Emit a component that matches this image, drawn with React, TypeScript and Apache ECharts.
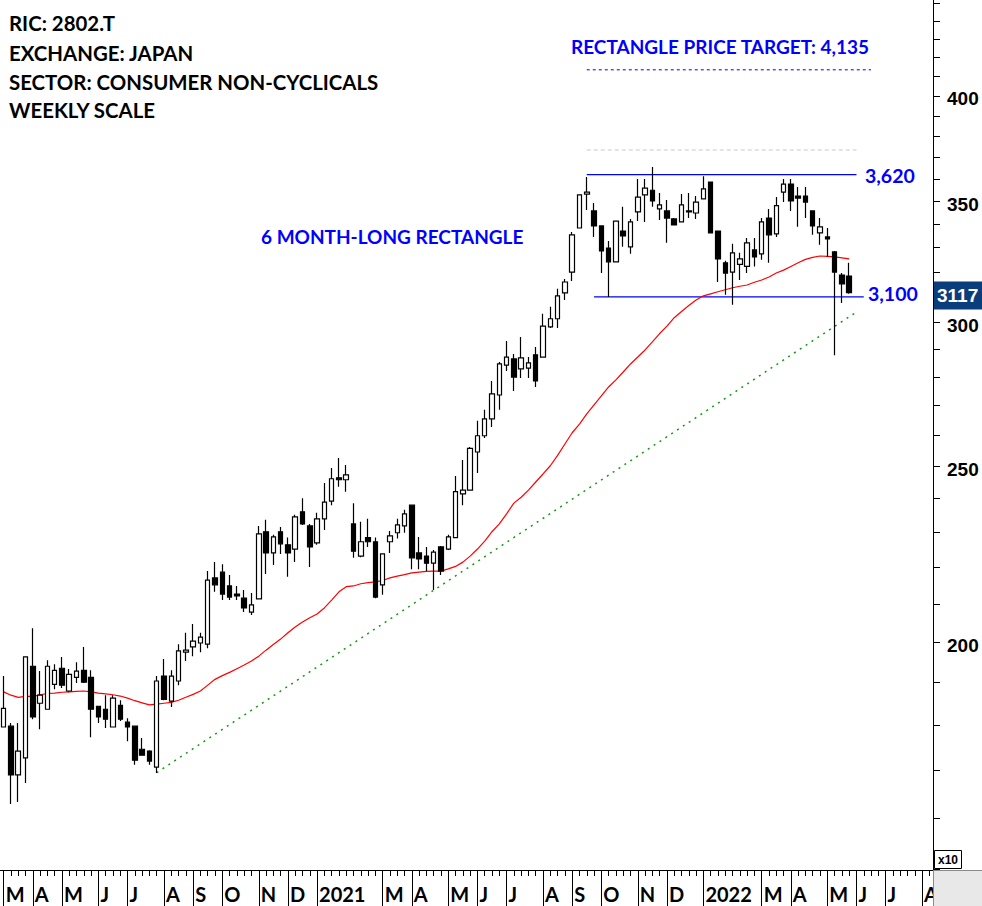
import React, { useEffect, useRef } from "react";
import * as echarts from "echarts";

// ---- data (prices shown x10, i.e. 311.7 = 3,117) ----
const FIRST_FRIDAY = "2020-03-06";
const WEEKS_ON_AXIS = 128;

// [open, close, low, high]
const ohlc: [number, number, number, number][] = [
  [179.6, 183.9, 179.6, 191.6], [179.8, 169.0, 162.9, 180.5], [169.0, 174.2, 163.3, 180.5], [172.7, 196.3, 167.3, 196.3],
  [194.0, 181.9, 181.4, 203.6], [185.1, 187.0, 179.1, 192.8], [183.7, 194.0, 183.7, 195.5], [189.6, 193.0, 188.4, 194.5],
  [193.5, 189.4, 188.7, 196.3], [188.0, 192.0, 187.7, 193.3], [191.3, 192.8, 189.9, 195.0], [193.0, 190.1, 189.9, 198.8],
  [191.3, 183.7, 177.3, 193.0], [184.4, 181.9, 180.5, 184.4], [183.7, 181.4, 179.4, 187.0], [179.6, 186.3, 179.6, 187.0],
  [184.6, 181.4, 181.0, 185.8], [180.7, 179.6, 176.4, 181.6], [179.8, 172.2, 171.2, 179.8], [174.6, 173.3, 173.3, 177.1],
  [174.2, 172.0, 171.2, 174.4], [170.7, 190.4, 169.4, 191.6], [191.6, 186.0, 185.8, 195.8], [185.6, 191.6, 184.2, 193.0],
  [190.4, 197.8, 189.4, 199.5], [197.5, 198.0, 195.3, 202.4], [198.8, 200.3, 196.5, 204.7], [199.8, 201.3, 197.5, 202.4],
  [199.5, 216.4, 198.5, 218.9], [217.0, 215.1, 213.2, 221.4], [218.6, 212.6, 211.0, 220.8], [214.8, 211.8, 211.0, 217.8],
  [212.6, 212.1, 211.0, 214.8], [211.5, 208.9, 207.8, 213.7], [207.8, 209.7, 207.0, 212.9], [211.3, 229.5, 211.3, 231.8],
  [230.1, 224.0, 218.1, 233.6], [224.0, 228.6, 220.6, 229.2], [230.1, 226.6, 223.7, 231.5], [226.3, 224.0, 217.3, 228.4],
  [225.1, 234.5, 221.4, 235.1], [236.0, 232.4, 232.1, 240.1], [231.8, 225.7, 220.0, 232.4], [226.9, 233.9, 226.3, 235.7],
  [233.9, 238.9, 230.6, 244.8], [239.2, 246.1, 238.0, 249.5], [246.4, 245.8, 243.6, 252.7], [245.8, 247.3, 242.1, 250.4],
  [232.4, 224.5, 222.6, 238.6], [223.1, 227.2, 222.8, 233.0], [228.4, 227.2, 225.7, 233.9], [227.2, 211.8, 211.5, 228.4],
  [215.1, 223.7, 212.4, 223.7], [227.2, 228.9, 224.0, 230.3], [229.8, 232.1, 228.1, 233.9], [231.8, 235.4, 229.8, 236.6],
  [238.0, 222.6, 219.4, 238.0], [224.0, 222.3, 219.4, 228.6], [223.1, 221.1, 218.9, 225.7], [221.1, 224.2, 213.7, 224.8],
  [225.7, 218.9, 217.8, 226.0], [225.1, 228.6, 224.8, 229.2], [228.4, 242.1, 228.4, 247.0], [241.4, 242.6, 238.0, 252.0],
  [242.6, 255.8, 242.6, 256.2], [254.6, 259.9, 247.9, 264.9], [259.9, 265.5, 259.2, 268.6], [265.5, 274.1, 262.8, 278.6],
  [273.7, 284.7, 268.6, 285.4], [284.3, 287.2, 282.2, 293.1], [286.5, 280.0, 275.1, 288.3], [282.9, 286.9, 279.7, 294.6],
  [283.2, 285.1, 279.7, 287.2], [288.0, 278.6, 276.5, 290.9], [287.2, 298.7, 287.2, 303.4], [298.4, 301.5, 298.0, 306.1],
  [301.5, 310.4, 298.0, 313.2], [311.6, 315.9, 308.8, 317.1], [319.9, 335.4, 316.3, 336.6], [338.3, 352.8, 338.3, 352.8],
  [353.2, 354.1, 346.1, 360.9], [345.7, 339.2, 334.5, 349.2], [339.2, 328.6, 319.5, 339.2], [329.8, 324.1, 309.9, 332.8],
  [324.1, 341.3, 324.1, 341.3], [337.0, 334.9, 330.3, 347.5], [330.3, 340.9, 327.4, 342.2], [345.3, 351.8, 341.3, 360.0],
  [352.8, 355.9, 340.9, 360.0], [354.9, 350.1, 347.5, 365.5], [346.6, 348.4, 341.7, 353.7], [345.7, 342.6, 332.0, 350.5],
  [342.2, 339.6, 339.6, 342.6], [340.9, 348.4, 340.9, 353.2], [345.7, 345.3, 342.6, 353.7], [344.8, 349.6, 342.2, 352.3],
  [351.0, 355.5, 351.0, 361.3], [358.6, 336.2, 336.2, 358.6], [337.0, 325.3, 315.9, 337.0], [323.7, 319.5, 310.8, 324.5],
  [319.9, 327.8, 306.9, 331.6], [323.0, 325.3, 316.7, 327.8], [322.2, 332.0, 319.5, 334.0], [329.0, 326.1, 322.2, 334.0],
  [327.4, 340.9, 324.9, 342.6], [342.6, 335.4, 323.7, 346.6], [335.8, 348.0, 334.5, 351.9], [354.1, 357.7, 349.6, 360.0],
  [357.7, 350.1, 345.7, 360.0], [352.3, 351.4, 338.8, 356.4], [352.3, 349.6, 342.6, 356.4], [345.7, 339.2, 335.4, 345.7],
  [336.2, 338.8, 331.2, 342.6], [334.5, 333.6, 326.1, 338.3], [328.2, 319.9, 287.9, 328.6], [318.7, 315.1, 307.6, 319.5],
  [318.3, 311.7, 311.2, 323.7],
];

// 40-week moving average (red line)
const movingAverage: number[] = [
  187.8, 187.0, 186.5, 186.7, 186.7, 187.1, 187.4, 187.5, 187.7, 187.8,
  187.9, 188.0, 187.8, 187.5, 187.3, 187.1, 186.8, 186.3, 185.7, 185.2,
  184.7, 184.9, 185.1, 185.3, 185.8, 186.5, 187.2, 188.0, 189.4, 190.8,
  191.7, 192.5, 193.4, 194.3, 195.3, 196.5, 198.0, 199.4, 200.8, 202.4,
  203.9, 205.2, 206.3, 207.3, 208.9, 211.0, 213.2, 214.6, 214.8, 215.4,
  215.7, 215.9, 216.3, 217.0, 217.5, 217.9, 218.4, 218.6, 218.8, 218.9,
  218.9, 219.5, 220.2, 221.4, 223.1, 225.1, 227.4, 230.1, 232.4, 235.4,
  238.6, 240.4, 242.6, 245.1, 247.6, 250.2, 253.5, 257.2, 260.9, 263.8,
  267.2, 270.3, 273.4, 276.5, 279.0, 281.8, 284.7, 287.2, 289.8, 292.8,
  295.9, 298.7, 301.9, 304.3, 306.6, 308.8, 310.4, 311.2, 312.0, 312.8,
  313.6, 314.2, 314.7, 315.8, 316.7, 317.9, 319.5, 320.7, 322.2, 323.7,
  325.1, 325.9, 326.5, 326.3, 326.1, 325.7, 325.3,
];

const yLabelValues = [200, 250, 300, 350, 400];
const yTickValues = [150, 160, 170, 180, 190, 200, 210, 220, 230, 240, 250, 260, 270, 280, 290, 300,
  310, 320, 330, 340, 350, 360, 370, 380, 390, 400, 410, 420, 430, 440, 450];
const Y_MIN = 149.8;
const Y_MAX = 451.8;

const resistanceLevel = { value: 362.0, from: 80, to: 117, label: "3,620" };
const supportLevel = { value: 310.0, from: 81, to: 118, label: "3,100" };
const priceTarget = { value: 413.5, from: 80, to: 119 };
const upperGuide = { value: 373.5, from: 80, to: 117 };
const trendLine = [[21, 169.5], [117, 304.1]];
const lastPriceLabel = "3117";
const lastPrice = 311.7;

const headerLines = ["RIC: 2802.T", "EXCHANGE: JAPAN", "SECTOR: CONSUMER NON-CYCLICALS", "WEEKLY SCALE"];
const targetTitle = "RECTANGLE PRICE TARGET: 4,135";
const patternTitle = "6 MONTH-LONG RECTANGLE";
const monthLetters = ["J", "F", "M", "A", "M", "J", "J", "A", "S", "O", "N", "D"];

function buildWeeks(): string[] {
  const out: string[] = [];
  const start = new Date(FIRST_FRIDAY + "T00:00:00Z").getTime();
  for (let i = 0; i < WEEKS_ON_AXIS; i++) {
    out.push(new Date(start + i * 7 * 86400000).toISOString().slice(0, 10));
  }
  return out;
}

export default function App() {
  const ref = useRef<HTMLDivElement>(null);
  useEffect(() => {
    if (!ref.current) return;
    const chart = echarts.init(ref.current, null, { renderer: "svg" });
    const L = Math.log;
    const weeks = buildWeeks();
    const monthOf = (i: number) => Number(weeks[i].slice(5, 7)) - 1;
    const isMonthMark = (i: number) =>
      (i === 0 || monthOf(i) !== monthOf(i - 1)) && monthOf(i) !== 1;

    const seg = (lv: { value: number; from: number; to: number }) => [
      [lv.from, L(lv.value)],
      [lv.to, L(lv.value)],
    ];
    const lineSeries = (data: any, color: string, type: any, width: number) => ({
      type: "line",
      data,
      showSymbol: false,
      symbol: "none",
      silent: true,
      lineStyle: { color, type, width },
      z: 3,
    });

    const option: any = {
      animation: false,
      backgroundColor: "#ffffff",
      grid: { left: 0, right: 49, top: 0, bottom: 36, containLabel: false, outerBoundsMode: "none" },
      xAxis: [
        {
          type: "category",
          data: weeks,
          position: "bottom",
          boundaryGap: true,
          axisLine: { show: true, lineStyle: { color: "#000", width: 1 } },
          axisTick: { show: true, alignWithLabel: true, interval: 0, length: 6, lineStyle: { color: "#000", width: 1 } },
          axisLabel: { show: false },
          splitLine: { show: false },
        },
        {
          type: "category",
          data: weeks,
          position: "bottom",
          boundaryGap: true,
          axisLine: { show: false },
          axisTick: {
            show: true,
            alignWithLabel: true,
            length: 36,
            interval: (i: number) => isMonthMark(i),
            lineStyle: { color: "#000", width: 1 },
          },
          axisLabel: {
            show: true,
            interval: (i: number) => isMonthMark(i),
            formatter: (v: string) => {
              const m = Number(v.slice(5, 7)) - 1;
              return m === 0 ? v.slice(0, 4) : monthLetters[m];
            },
            align: "left",
            verticalAlign: "middle",
            padding: [0, 0, 0, 2],
            margin: 24,
            color: "#000",
            fontFamily: "Lato",
            fontWeight: "bold",
            fontSize: 20,
          },
          splitLine: { show: false },
        },
      ],
      yAxis: {
        type: "value",
        position: "right",
        min: L(Y_MIN),
        max: L(Y_MAX),
        scale: true,
        axisLine: { show: true, lineStyle: { color: "#000", width: 1 } },
        axisTick: {
          show: true,
          length: 7,
          customValues: yTickValues.map(L),
          lineStyle: { color: "#000", width: 1 },
        },
        axisLabel: {
          show: true,
          customValues: yLabelValues.map(L),
          formatter: (v: number) => String(Math.round(Math.exp(v))),
          margin: 14,
          verticalAlign: "top",
          lineHeight: 6,
          color: "#000",
          fontFamily: "Liberation Sans",
          fontWeight: "bold",
          fontSize: 19,
        },
        splitLine: { show: false },
      },
      series: [
        lineSeries(seg(upperGuide), "#c8c8c8", [4, 3], 1),
        lineSeries(seg(priceTarget), "#0000ff", [3, 3], 1),
        lineSeries(seg(resistanceLevel), "#0000ff", "solid", 1.2),
        lineSeries(seg(supportLevel), "#0000ff", "solid", 1.2),
        lineSeries(trendLine.map(([i, p]) => [i, L(p)]), "#139a13", [2, 5], 1.5),
        {
          type: "line",
          data: movingAverage.map((v) => L(v)),
          showSymbol: false,
          symbol: "none",
          silent: true,
          lineStyle: { color: "#ff0000", width: 1.2 },
          z: 3,
        },
        {
          type: "candlestick",
          data: ohlc.map(([o, c, l, h]) => [L(o), L(c), L(l), L(h)]),
          barWidth: 5,
          silent: true,
          itemStyle: {
            color: "#ffffff",
            color0: "#000000",
            borderColor: "#000000",
            borderColor0: "#000000",
            borderWidth: 1.2,
          },
          z: 4,
        },
      ],
    };
    chart.setOption(option);

    const yPix = (p: number) => chart.convertToPixel({ yAxisIndex: 0 }, L(p)) as number;
    const blueFont = "bold 19px Lato";
    const graphics: any[] = [];
    headerLines.forEach((t, k) => {
      graphics.push({
        type: "text",
        x: 9,
        y: [23, 53, 82, 110][k],
        z: 50,
        style: { text: t, fill: "#000", font: "bold 20.4px Lato", align: "left", verticalAlign: "middle" },
      });
    });
    graphics.push({
      type: "text", x: 571, y: 46, z: 50,
      style: { text: targetTitle, fill: "#0000ff", font: blueFont, align: "left", verticalAlign: "middle" },
    });
    graphics.push({
      type: "text", x: 261, y: 236, z: 50,
      style: { text: patternTitle, fill: "#0000ff", font: blueFont, align: "left", verticalAlign: "middle" },
    });
    graphics.push({
      type: "text", x: 865, y: yPix(resistanceLevel.value) + 1, z: 50,
      style: { text: resistanceLevel.label, fill: "#0000ff", font: "bold 19.5px Lato", align: "left", verticalAlign: "middle" },
    });
    graphics.push({
      type: "text", x: 868, y: yPix(supportLevel.value) - 3, z: 50,
      style: { text: supportLevel.label, fill: "#0000ff", font: "bold 19.5px Lato", align: "left", verticalAlign: "middle" },
    });
    const ly = yPix(lastPrice) + 3;
    graphics.push({
      type: "rect", z: 60,
      shape: { x: 934, y: ly - 14, width: 48, height: 28 },
      style: { fill: "#0a3d7c" },
    });
    graphics.push({
      type: "text", x: 937, y: ly, z: 61,
      style: { text: lastPriceLabel, fill: "#ffffff", font: "bold 19px 'Liberation Sans'", align: "left", verticalAlign: "middle" },
    });
    graphics.push({
      type: "rect", z: 60,
      shape: { x: 934.5, y: 850.5, width: 27, height: 18 },
      style: { fill: "#ffffff", stroke: "#000", lineWidth: 1 },
    });
    graphics.push({
      type: "text", x: 948, y: 860, z: 61,
      style: { text: "x10", fill: "#000", font: "bold 12px 'Liberation Sans'", align: "center", verticalAlign: "middle" },
    });
    graphics.push({
      type: "rect", z: 60,
      shape: { x: 933.5, y: 870.5, width: 49, height: 36 },
      style: { fill: "#e8e8e8", stroke: "#8a8a8a", lineWidth: 1 },
    });
    chart.setOption({ graphic: graphics });

    return () => chart.dispose();
  }, []);
  return (
    <div
      ref={ref}
      style={{ position: "absolute", left: 0, top: 0, width: 982, height: 906, background: "#fff" }}
    />
  );
}
